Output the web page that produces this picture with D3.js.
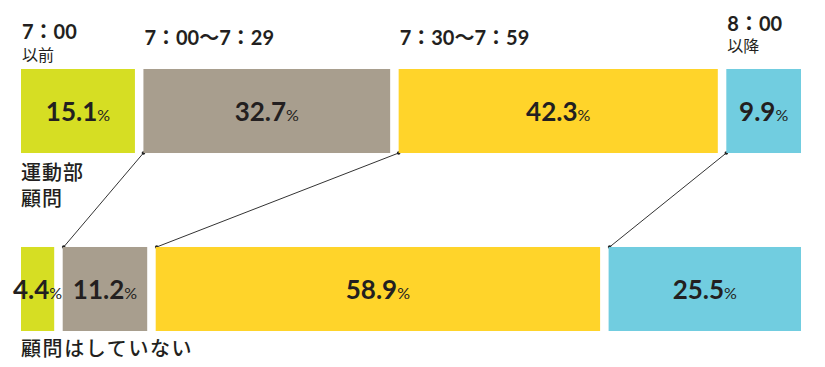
<!DOCTYPE html>
<html>
<head>
<meta charset="utf-8">
<script src="https://cdn.jsdelivr.net/npm/d3@7"></script>
<style>
  body { margin: 0; background: #fff; }
  svg { display: block; }
</style>
</head>
<body>
<div id="chart"></div>
<script>
// Chart data
const timeLabels = [["7：00", "以前"], ["7：00～7：29"], ["7：30～7：59"], ["8：00", "以降"]];
const groups = ["運動部顧問", "顧問はしていない"];
const advisorValues = [15.1, 32.7, 42.3, 9.9];
const nonAdvisorValues = [4.4, 11.2, 58.9, 25.5];

const colours = ["#d6de23", "#a89e8e", "#ffd42a", "#71cde0"];
const textColour = "#231f20";
const numFont = "Lato, 'Noto Sans CJK JP', sans-serif";
const jpFont = "'Noto Sans CJK JP', sans-serif";

// Dimensions
let w = 825, h = 367, gap = 8.5, left = 21, right = 801;

let svg = d3.select("#chart").append("svg").attr("width", w).attr("height", h);

// Scales
let xScale = d3.scaleLinear().domain([0, 100]).range([left, right - gap * 3]);
let yScale = d3.scaleBand().domain(groups).range([69, 331]).paddingInner(0.528).paddingOuter(0);

// Build segment rows
function buildRow(values, group) {
  let acc = 0;
  return values.map((v, i) => {
    let seg = { group: group, i: i, value: v, x0: xScale(acc) + i * gap, x1: xScale(acc + v) + i * gap };
    acc += v;
    return seg;
  });
}
let rows = [buildRow(advisorValues, groups[0]), buildRow(nonAdvisorValues, groups[1])];

// Connector lines (top row start -> bottom row start)
let links = d3.range(1, 4).map(i => ({
  x1: rows[0][i].x0, y1: yScale(groups[0]) + yScale.bandwidth(),
  x2: rows[1][i].x0 + 1, y2: yScale(groups[1])
}));
svg.selectAll(".link").data(links).enter().append("line")
  .attr("x1", d => d.x1).attr("y1", d => d.y1).attr("x2", d => d.x2).attr("y2", d => d.y2)
  .attr("stroke", "#333").attr("stroke-width", 1);
links.forEach(d => {
  svg.append("circle").attr("cx", d.x1).attr("cy", d.y1).attr("r", 1.8).attr("fill", "#222");
  svg.append("circle").attr("cx", d.x2).attr("cy", d.y2).attr("r", 1.8).attr("fill", "#222");
});

// Draw bars and value labels
rows.forEach(row => {
  let g = svg.append("g");
  g.selectAll("rect").data(row).enter().append("rect")
    .attr("x", d => d.x0).attr("y", d => yScale(d.group))
    .attr("width", d => d.x1 - d.x0).attr("height", yScale.bandwidth())
    .attr("fill", d => colours[d.i]);

  let t = g.selectAll("text").data(row).enter().append("text")
    .attr("x", d => (d.x0 + d.x1) / 2)
    .attr("y", d => yScale(d.group) + yScale.bandwidth() / 2 + 10)
    .attr("text-anchor", "middle").attr("fill", textColour)
    .style("font-family", numFont);
  t.append("tspan").text(d => d.value.toFixed(1)).style("font-size", "26px").style("font-weight", 700);
  t.append("tspan").text("%").style("font-size", "16px").style("font-weight", 400);
});

// Time labels above the top row
let labelBase = [[39, 61], [45], [45], [31, 52]];
timeLabels.forEach((lines, i) => {
  lines.forEach((line, j) => {
    svg.append("text").text(line)
      .attr("x", rows[0][i].x0 + 1).attr("y", labelBase[i][j])
      .attr("fill", textColour)
      .style("font-family", numFont)
      .style("font-size", j == 0 ? "20px" : "16px")
      .style("font-weight", j == 0 ? 700 : 400);
  });
});

// Group labels
let topLabel = svg.append("text").attr("x", 21).attr("y", 180).attr("fill", textColour)
  .style("font-family", jpFont).style("font-size", "20px").style("font-weight", 500).style("letter-spacing", "1px");
topLabel.append("tspan").attr("x", 21).text(groups[0].slice(0, 3));
topLabel.append("tspan").attr("x", 21).attr("dy", 26).text(groups[0].slice(3));

svg.append("text").attr("x", 21).attr("y", 356).attr("fill", textColour)
  .style("font-family", jpFont).style("font-size", "20px").style("font-weight", 500).style("letter-spacing", "1.6px")
  .text(groups[1]);
</script>
</body>
</html>
